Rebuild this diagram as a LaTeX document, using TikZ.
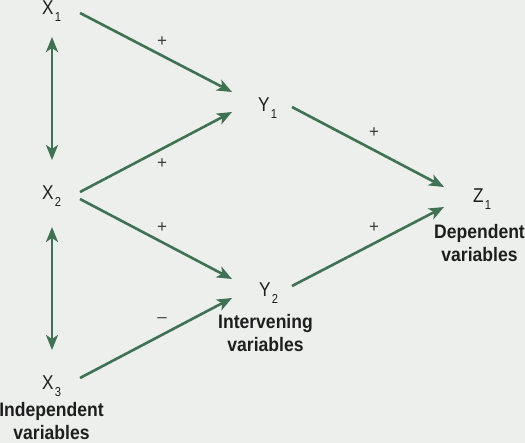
\documentclass[tikz,border=0pt]{standalone}
\usepackage{fontspec}
\setmainfont{Liberation Sans}
\newfontfamily\labfont{Liberation Sans}[FakeStretch=0.9]
\newfontfamily\varfont{Liberation Sans}[FakeStretch=0.86]
\usetikzlibrary{arrows.meta}
\definecolor{bgc}{HTML}{ECEFEC}
\definecolor{arc}{HTML}{3F7152}
\definecolor{txc}{HTML}{1E1E1E}
\definecolor{sgc}{HTML}{3A3A3A}
\newcommand\subsc[1]{\kern1.2pt\raisebox{-7pt}{\fontsize{13}{13}\selectfont #1}}
\tikzset{
  var/.style={inner sep=0pt, text=txc, font=\varfont\fontsize{20}{20}\selectfont, anchor=base west},
  lab/.style={inner sep=0pt, text=txc, align=center, font=\labfont\bfseries\fontsize{19.5}{23}\selectfont, anchor=base},
  sgn/.style={inner sep=0pt, text=sgc, font=\fontsize{17}{17}\selectfont},
  arr/.style={draw=arc, line width=2.6pt, -{Stealth[length=15pt,width=12pt,inset=4pt]}},
  darr/.style={draw=arc, line width=2.6pt, {Stealth[length=15pt,width=12pt,inset=4pt]}-{Stealth[length=15pt,width=12pt,inset=4pt]}}
}
\begin{document}
\begin{tikzpicture}[x=1pt,y=-1pt]
\fill[bgc] (0,0) rectangle (525,443);
\useasboundingbox (0,0) rectangle (525,443);
% variable labels
\node[var] (x1) at (42,15) {X\subsc{1}};
\node[var] (x2) at (42,200) {X\subsc{2}};
\node[var] (x3) at (42,390) {X\subsc{3}};
\node[var] (y1) at (258,112) {Y\subsc{1}};
\node[var] (y2) at (259,297) {Y\subsc{2}};
\node[var] (z1) at (473,203) {Z\subsc{1}};
% group labels (anchor base = baseline of last line)
\node[lab] (indep) at (51.5,440) {Independent\\variables};
\node[lab] (inter) at (265.5,352) {Intervening\\variables};
\node[lab] (dep) at (479.5,262) {Dependent\\variables};
% connector end points
\coordinate (x1r) at (80,13);
\coordinate (x2ru) at (80,192);
\coordinate (x2rd) at (80,199);
\coordinate (x3r) at (80,378);
\coordinate (y1lu) at (232,92);
\coordinate (y1ld) at (232,112);
\coordinate (y2lu) at (232,279);
\coordinate (y2ld) at (232,298);
\coordinate (y1r) at (292,107);
\coordinate (y2r) at (292,286);
\coordinate (z1lu) at (444,187);
\coordinate (z1ld) at (444,207);
\coordinate (x1b) at (52,37);
\coordinate (x2t) at (52,160);
\coordinate (x2b) at (52,227);
\coordinate (x3t) at (52,350);
% connectors
\draw[arr] (x1r) -- (y1lu);
\draw[arr] (x2ru) -- (y1ld);
\draw[arr] (x2rd) -- (y2lu);
\draw[arr] (x3r) -- (y2ld);
\draw[arr] (y1r) -- (z1lu);
\draw[arr] (y2r) -- (z1ld);
\draw[darr] (x1b) -- (x2t);
\draw[darr] (x2b) -- (x3t);
% signs
\node[sgn] (s1) at (162,42) {+};
\node[sgn] (s2) at (162,164) {+};
\node[sgn] (s3) at (162,228) {+};
\node[sgn] (s4) at (162,320) {\textendash};
\node[sgn] (s5) at (374,133) {+};
\node[sgn] (s6) at (374,228) {+};
\end{tikzpicture}
\end{document}
